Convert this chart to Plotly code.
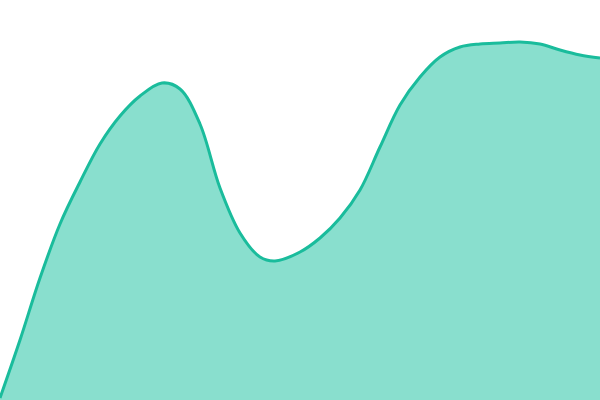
import plotly.graph_objects as go

# values (x in px across, y as height above the bottom)
xs = [0, 20, 40, 60, 80, 100, 120, 140, 162, 180, 200, 220, 240, 260, 275,
      300, 320, 340, 360, 380, 400, 420, 440, 460, 480, 500, 520, 540, 560, 580, 600]
heights = [2, 60, 122, 176, 218, 256, 284, 304, 317, 311, 276, 212, 167, 143, 139,
           148, 162, 182, 210, 253, 295, 323, 343, 353, 356, 357, 358, 356, 350, 345, 342]

line_color = "#1abc9c"
fill_color = "#89dfce"


def main():
    fig = go.Figure()

    fig.add_trace(
        go.Scatter(
            x=xs,
            y=heights,
            mode="lines",
            line=dict(color=line_color, width=3, shape="spline", smoothing=1),
            fill="tozeroy",
            fillcolor=fill_color,
            hoverinfo="skip",
        )
    )

    fig.update_xaxes(visible=False, range=[0, 600], fixedrange=True)
    fig.update_yaxes(visible=False, range=[0, 400], fixedrange=True)

    fig.update_layout(
        width=600,
        height=400,
        margin=dict(l=0, r=0, t=0, b=0),
        paper_bgcolor="white",
        plot_bgcolor="white",
        showlegend=False,
    )

    # page has a default 8px body margin, drop it so the plot fills the window
    fig.write_html(
        "out.html",
        config=dict(displayModeBar=False),
        post_script="document.body.style.margin='0';document.body.style.overflow='hidden';",
    )


if __name__ == "__main__":
    main()
